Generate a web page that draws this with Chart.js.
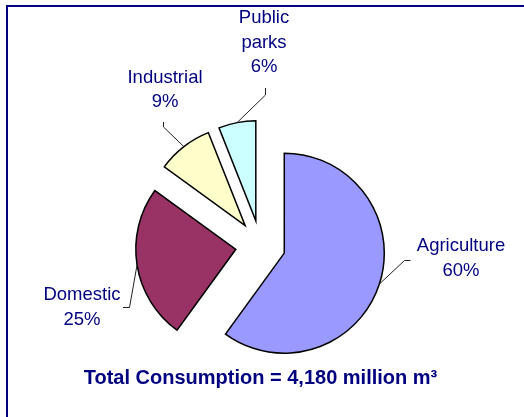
<!DOCTYPE html>
<html>
<head>
<meta charset="utf-8">
<title>Water consumption by sector</title>
<script src="https://cdn.jsdelivr.net/npm/chart.js@4.4.1/dist/chart.umd.min.js"></script>
<style>
  html, body { margin: 0; padding: 0; background: #fff; }
  #wrap { position: relative; width: 524px; height: 417px; }
  #frame {
    position: absolute; left: 6px; top: 5px; right: 0; bottom: 0;
    border-top: 2px solid #000080; border-left: 2px solid #000080;
    pointer-events: none;
  }
</style>
</head>
<body>
<div id="wrap">
  <canvas id="pieChart"></canvas>
  <div id="frame"></div>
</div>
<script>
// data
const categories = ['Agriculture', 'Domestic', 'Industrial', 'Public parks'];
const shares = [60, 25, 9, 6];
const totalText = 'Total Consumption = 4,180 million m\u00B3';

const sliceColors = ['#9999FF', '#993366', '#FFFFCC', '#CCFFFF'];

// label placement (text centre x, first baseline y) and leader elbows
const labelLayout = [
  { x: 461, y: 251, elbow: [404.5, 260.5], end: [410.5, 260.5] },
  { x: 82,  y: 300, elbow: [129.5, 307.5], end: [123, 307.5] },
  { x: 165, y: 82.5, elbow: [163.5, 127], end: [163.5, 122] },
  { x: 264, y: 23,  elbow: [265.5, 95], end: [265.5, 88] }
];

const EXPLODE = 25;

// pulls every slice out from the centre along its mid angle
const explodePlugin = {
  id: 'explode',
  beforeDatasetDraw(chart, args) {
    const ctx = chart.ctx;
    args.meta.data.forEach(arc => {
      const mid = (arc.startAngle + arc.endAngle) / 2;
      ctx.save();
      ctx.translate(Math.cos(mid) * EXPLODE, Math.sin(mid) * EXPLODE);
      arc.draw(ctx);
      ctx.restore();
    });
    return false;
  },
  afterDatasetsDraw(chart) {
    const ctx = chart.ctx;
    const arcs = chart.getDatasetMeta(0).data;
    ctx.save();
    // leader lines
    ctx.strokeStyle = '#222';
    ctx.lineWidth = 1;
    arcs.forEach((arc, i) => {
      const mid = (arc.startAngle + arc.endAngle) / 2;
      const r = arc.outerRadius + EXPLODE;
      const lay = labelLayout[i];
      ctx.beginPath();
      ctx.moveTo(arc.x + Math.cos(mid) * r, arc.y + Math.sin(mid) * r);
      ctx.lineTo(lay.elbow[0], lay.elbow[1]);
      ctx.lineTo(lay.end[0], lay.end[1]);
      ctx.stroke();
    });
    // labels
    ctx.fillStyle = '#000080';
    ctx.font = '18.5px "Liberation Sans", Arial, sans-serif';
    ctx.textAlign = 'center';
    ctx.textBaseline = 'alphabetic';
    categories.forEach((name, i) => {
      const lines = name.split(' ').concat(shares[i] + '%');
      const lay = labelLayout[i];
      lines.forEach((t, j) => ctx.fillText(t, lay.x, lay.y + j * 24.5));
    });
    ctx.restore();
  }
};

const ctx = document.getElementById('pieChart').getContext('2d');
new Chart(ctx, {
  type: 'pie',
  data: {
    labels: categories,
    datasets: [{
      data: shares,
      backgroundColor: sliceColors,
      borderColor: '#000',
      borderWidth: 1.5,
      borderJoinStyle: 'miter',
      clip: false
    }]
  },
  options: {
    responsive: true,
    maintainAspectRatio: false,
    animation: false,
    radius: 100,
    layout: { padding: { left: 0, right: 3, top: 124.5, bottom: 0 } },
    plugins: {
      legend: { display: false },
      tooltip: { enabled: false },
      title: {
        display: true,
        position: 'bottom',
        text: totalText,
        color: '#000080',
        font: { family: '"Liberation Sans", Arial, sans-serif', size: 20, weight: 'bold', lineHeight: 1.2 },
        padding: { top: 0, bottom: 26.7 }
      }
    }
  },
  plugins: [explodePlugin]
});
</script>
</body>
</html>
